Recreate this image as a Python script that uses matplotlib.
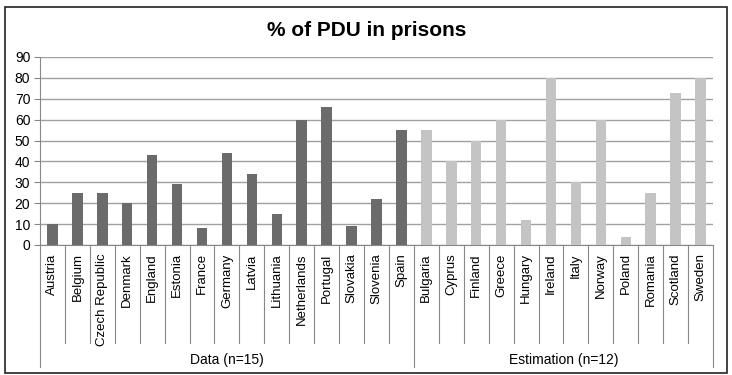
import matplotlib
matplotlib.use("Agg")
import matplotlib.pyplot as plt
import matplotlib.transforms as mtransforms
from matplotlib.patches import Rectangle

plt.rcParams['font.family'] = ['Liberation Sans', 'DejaVu Sans']

data_countries = ["Austria", "Belgium", "Czech Republic", "Denmark", "England", "Estonia",
                  "France", "Germany", "Latvia", "Lithuania", "Netherlands", "Portugal",
                  "Slovakia", "Slovenia", "Spain"]
data_values = [10, 25, 25, 20, 43, 29, 8, 44, 34, 15, 60, 66, 9, 22, 55]
est_countries = ["Bulgaria", "Cyprus", "Finland", "Greece", "Hungary", "Ireland", "Italy",
                 "Norway", "Poland", "Romania", "Scotland", "Sweden"]
est_values = [55, 40, 50, 60, 12, 80, 30, 60, 4, 25, 73, 80]
group_labels = ["Data (n=15)", "Estimation (n=12)"]
title = "% of PDU in prisons"
yticks = [0, 10, 20, 30, 40, 50, 60, 70, 80, 90]

W, H = 732, 375
fig = plt.figure(figsize=(W / 100, H / 100), dpi=100)
ax = fig.add_axes([40 / W, 1 - 245 / H, (713 - 40) / W, (245 - 57) / H])

cats = data_countries + est_countries
vals = data_values + est_values
colors = ["#6b6b6b"] * len(data_values) + ["#c4c4c4"] * len(est_values)
x = list(range(len(cats)))
ax.bar(x, vals, width=0.42, color=colors, zorder=3)

ax.set_xlim(-0.5, len(cats) - 0.5)
ax.set_ylim(0, 90)
ax.set_yticks(yticks)
ax.tick_params(axis='y', labelsize=10, length=4, width=0.8, color="#888888", pad=3)
ax.yaxis.grid(True, color="#a0a0a0", linewidth=1.0, zorder=0)
ax.set_axisbelow(True)
for s in ["top", "right"]:
    ax.spines[s].set_visible(False)
ax.spines["left"].set_color("#888888")
ax.spines["bottom"].set_color("#888888")

ax.set_xticks(x)
ax.set_xticklabels(cats, rotation=90, fontsize=9.5, va='top')
ax.tick_params(axis='x', length=0, pad=6)

trans = mtransforms.blended_transform_factory(ax.transData, ax.transAxes)
ax_h = 245 - 57
y_cat = -(343 - 245) / ax_h
y_grp = -(367 - 245) / ax_h
y_lab = -(360 - 245) / ax_h

n1 = len(data_values)
n = len(cats)
group_bounds = [-0.5, n1 - 0.5, n - 0.5]
for b in range(n + 1):
    xb = b - 0.5
    if xb in group_bounds:
        ax.plot([xb, xb], [0, y_grp], transform=trans, color="#888888", lw=0.8, clip_on=False)
    else:
        ax.plot([xb, xb], [0, y_cat], transform=trans, color="#888888", lw=0.8, clip_on=False)

ax.text((group_bounds[0] + group_bounds[1]) / 2, y_lab, group_labels[0], transform=trans,
        ha='center', va='center', fontsize=10)
ax.text((group_bounds[1] + group_bounds[2]) / 2, y_lab, group_labels[1], transform=trans,
        ha='center', va='center', fontsize=10)

fig.text(367 / W, 1 - 30 / H, title, ha='center', va='center', fontsize=15, fontweight='bold')

fig.patches.append(Rectangle((5 / W, 1 - 373 / H), (727 - 5) / W, (373 - 7) / H,
                             transform=fig.transFigure, fill=False, edgecolor="#222222",
                             linewidth=1.2))

fig.savefig("out.png", dpi=100)
